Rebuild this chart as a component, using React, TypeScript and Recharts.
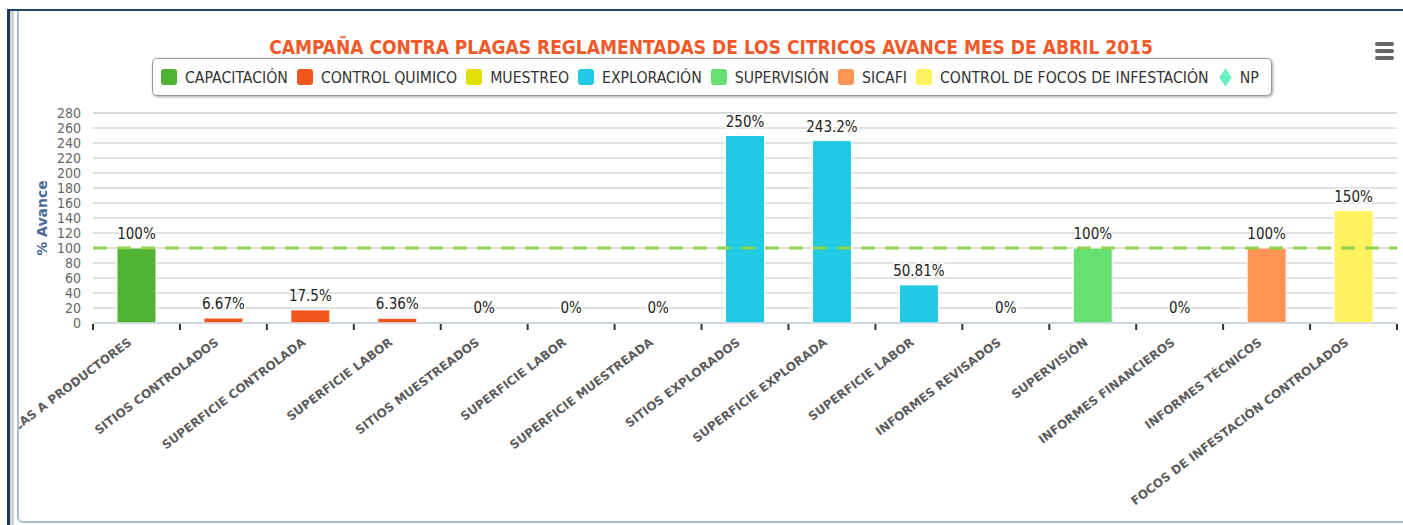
import { ComposedChart, Bar, Cell, XAxis, YAxis, CartesianGrid, ReferenceLine, LabelList } from 'recharts';

const categories = [
  'PLATICAS A PRODUCTORES',
  'SITIOS CONTROLADOS',
  'SUPERFICIE CONTROLADA',
  'SUPERFICIE LABOR',
  'SITIOS MUESTREADOS',
  'SUPERFICIE LABOR',
  'SUPERFICIE MUESTREADA',
  'SITIOS EXPLORADOS',
  'SUPERFICIE EXPLORADA',
  'SUPERFICIE LABOR',
  'INFORMES REVISADOS',
  'SUPERVISIÓN',
  'INFORMES FINANCIEROS',
  'INFORMES TÉCNICOS',
  'FOCOS DE INFESTACIÓN CONTROLADOS',
];
const values = [100, 6.67, 17.5, 6.36, 0, 0, 0, 250, 243.2, 50.81, 0, 100, 0, 100, 150];
// which series each category belongs to
const seriesOf = [0, 1, 1, 1, 2, 2, 2, 3, 3, 3, 4, 4, 5, 5, 6];

const seriesNames = [
  'CAPACITACIÓN',
  'CONTROL QUIMICO',
  'MUESTREO',
  'EXPLORACIÓN',
  'SUPERVISIÓN',
  'SICAFI',
  'CONTROL DE FOCOS DE INFESTACIÓN',
  'NP',
];
const seriesColors = ['#4fb232', '#f0561d', '#dde000', '#22c9e4', '#66e070', '#ff9554', '#fff160', '#66f0c4'];

const yTicks = [0, 20, 40, 60, 80, 100, 120, 140, 160, 180, 200, 220, 240, 260, 280];
const minorTicks = Array.from({ length: 71 }, (_, i) => i * 4);

const data = categories.map((name, i) => ({ name, value: values[i], series: seriesOf[i] }));

const FONT = "'DejaVu Sans Condensed', sans-serif";
const ANGLE = -37;

function XTick(props: any) {
  const { x, y, payload, index } = props;
  const half = payload?.offset || 43.47;
  const tx = x - 4;
  const ty = y + 21;
  return (
    <g>
      <line x1={x - half} x2={x - half} y1={y + 1} y2={y + 7} stroke="#333" strokeWidth={2} />
      {index === categories.length - 1 && (
        <line x1={x + half} x2={x + half} y1={y + 1} y2={y + 7} stroke="#333" strokeWidth={2} />
      )}
      <text
        x={tx}
        y={ty}
        textAnchor="end"
        transform={`rotate(${ANGLE}, ${tx}, ${ty})`}
        fontFamily="'DejaVu Sans', sans-serif"
        fontSize={12}
        fontWeight="bold"
        fill="#5c5c5c"
      >
        {String(payload.value)}
      </text>
    </g>
  );
}

function TopLabel(props: any) {
  const { x, y, width, value } = props;
  return (
    <text
      x={x + width / 2}
      y={y - 9}
      textAnchor="middle"
      fontFamily={FONT}
      fontSize={15}
      fill="#222"
      stroke="#fff"
      strokeWidth={3}
      style={{ paintOrder: 'stroke' }}
    >
      {`${value}%`}
    </text>
  );
}

function LegendBox() {
  return (
    <div
      style={{
        position: 'absolute',
        left: 152,
        top: 58,
        width: 1110,
        height: 36,
        border: '1px solid #999',
        borderRadius: 5,
        boxShadow: '1px 1px 3px rgba(0,0,0,0.35)',
        display: 'flex',
        alignItems: 'center',
        paddingLeft: 8,
        boxSizing: 'content-box',
        fontFamily: FONT,
        fontSize: 15.7,
        color: '#333',
        background: '#fff',
        whiteSpace: 'nowrap',
      }}
    >
      {seriesNames.map((s, i) => (
        <div key={s} style={{ display: 'flex', alignItems: 'center', marginRight: 9, flexShrink: 0 }}>
          {i === seriesNames.length - 1 ? (
            <div
              style={{
                width: 11,
                height: 11,
                background: seriesColors[i],
                transform: 'scale(0.8, 1.2) rotate(45deg)',
                marginRight: 9,
                marginLeft: 2,
              }}
            />
          ) : (
            <div style={{ width: 16, height: 16, borderRadius: 3, background: seriesColors[i], marginRight: 8 }} />
          )}
          <span>{s}</span>
        </div>
      ))}
    </div>
  );
}

export default function App() {
  return (
    <div style={{ position: 'absolute', left: 0, top: 0, width: 1403, height: 525, overflow: 'hidden', background: '#fff' }}>
      <ComposedChart
        width={1403}
        height={525}
        data={data}
        margin={{ top: 113, right: 6, left: 53, bottom: 52 }}
        style={{ position: 'absolute', left: 0, top: 0 }}
      >
        <CartesianGrid yAxisId="minor" vertical={false} stroke="#e4e4e4" />
        <CartesianGrid vertical={false} stroke="#c4c4c4" />
        <XAxis
          dataKey="name"
          interval={0}
          height={150}
          tickSize={0}
          tickMargin={0}
          axisLine={{ stroke: '#c0d0e0' }}
          tick={<XTick />}
        />
        <YAxis
          width={40}
          domain={[0, 280]}
          ticks={yTicks}
          interval={0}
          tickLine={false}
          axisLine={false}
          tickMargin={6}
          tick={{ fontFamily: FONT, fontSize: 14, fill: '#666' }}
          label={{
            value: '% Avance',
            angle: -90,
            position: 'left',
            offset: 11,
            style: { fontFamily: 'DejaVu Sans', fontSize: 14, fontWeight: 'bold', fill: '#4a6a96', textAnchor: 'middle' },
          }}
        />
        <YAxis yAxisId="minor" hide domain={[0, 280]} ticks={minorTicks} interval={0} />
        <Bar dataKey="value" barSize={39} minPointSize={1} isAnimationActive={false}>
          {data.map((d, i) => (
            <Cell
              key={i}
              fill={d.value > 0 ? seriesColors[d.series] : 'transparent'}
              stroke={d.value > 0 ? '#fff' : 'none'}
              strokeWidth={1}
            />
          ))}
          <LabelList dataKey="value" content={<TopLabel />} />
        </Bar>
        <ReferenceLine y={100} stroke="#8fd44a" strokeWidth={3} strokeDasharray="14 10" />
      </ComposedChart>

      {/* page frame, drawn over the chart so the first label is clipped like the original */}
      <div style={{ position: 'absolute', left: 0, top: 0, width: 7, height: 525, background: '#fff' }} />
      <div style={{ position: 'absolute', left: 7, top: 9, width: 1396, height: 2, background: '#23406e' }} />
      <div style={{ position: 'absolute', left: 7, top: 9, width: 3, height: 516, background: '#1d3765' }} />
      <div style={{ position: 'absolute', left: 10, top: 11, width: 4, height: 514, background: '#d4d4d4' }} />
      <div style={{ position: 'absolute', left: 14, top: 11, width: 3, height: 514, background: '#fff' }} />
      <div
        style={{
          position: 'absolute',
          left: 17,
          top: 11,
          width: 1384,
          height: 510,
          borderLeft: '2px solid #a9bcd6',
          borderRight: '1px solid #a9bcd6',
          borderBottom: '2px solid #a9bcd6',
          borderBottomLeftRadius: 6,
          pointerEvents: 'none',
        }}
      />

      <div
        style={{
          position: 'absolute',
          left: 0,
          width: 1422,
          top: 36,
          textAlign: 'center',
          fontFamily: FONT,
          fontSize: 19,
          fontWeight: 'bold',
          color: '#f0592a',
        }}
      >
        CAMPAÑA CONTRA PLAGAS REGLAMENTADAS DE LOS CITRICOS AVANCE MES DE ABRIL 2015
      </div>

      <LegendBox />

      {/* menu icon */}
      {[42, 49, 56].map((t) => (
        <div key={t} style={{ position: 'absolute', left: 1375, top: t, width: 19, height: 4, borderRadius: 2, background: '#666' }} />
      ))}
    </div>
  );
}
